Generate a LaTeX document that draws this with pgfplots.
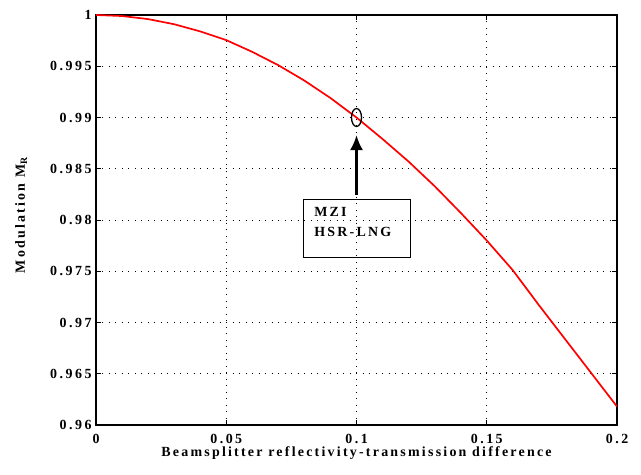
\documentclass[border=0pt]{standalone}
\usepackage{pgfplots}
\pgfplotsset{compat=1.18}
\usetikzlibrary{arrows.meta}
\usepackage{fontspec}
\setmainfont{Liberation Serif}[LetterSpace=16]
\newfontfamily\tickfont{Liberation Serif}[LetterSpace=18]
% open, upright ellipse used to flag the operating point
\pgfdeclareplotmark{vellipse}{%
  \pgfpathellipse{\pgfpointorigin}{\pgfqpoint{5bp}{0pt}}{\pgfqpoint{0pt}{9bp}}%
  \pgfusepathqstroke}
\begin{document}
\begin{tikzpicture}
\begin{axis}[
  scale only axis,
  width=521bp, height=410bp,
  xmin=0, xmax=0.2, ymin=0.96, ymax=1,
  xtick={0,0.05,0.1,0.15,0.2},
  ytick={0.96,0.965,0.97,0.975,0.98,0.985,0.99,0.995,1},
  xticklabels={0,0.05,0.1,0.15,0.2},
  yticklabels={0.96,0.965,0.97,0.975,0.98,0.985,0.99,0.995,1},
  tick align=inside,
  tick pos=both,
  major tick length=5bp,
  grid=major,
  major grid style={black, line width=0.9pt, dash pattern=on 0.9bp off 5.6bp},
  axis line style={black, line width=1.4pt},
  tick style={black, line width=1pt},
  ticklabel style={font=\fontsize{14}{16}\selectfont\tickfont\bfseries},
  xticklabel style={anchor=base, yshift=-18bp},
  yticklabel style={xshift=-1bp},
  label style={font=\fontsize{14}{16}\selectfont\bfseries},
  xlabel={Beamsplitter reflectivity-transmission difference},
  ylabel={Modulation M\textsubscript{R}},
  xlabel style={at={(axis description cs:0.5,0)}, anchor=base, yshift=-31bp},
  ylabel style={at={([xshift=-71bp,yshift=5bp]axis description cs:0,0.5)}, anchor=base},
]
\addplot[red, line width=1.7pt] coordinates {
  (0,1) (0.01,0.9999) (0.02,0.9996) (0.03,0.9991) (0.04,0.9984)
  (0.05,0.99755) (0.06,0.9964) (0.07,0.9951) (0.08,0.9936)
  (0.09,0.9919) (0.1,0.9900) (0.11,0.9879) (0.12,0.9857)
  (0.13,0.9833) (0.14,0.9807) (0.15,0.9780) (0.16,0.9751)
  (0.17,0.9717) (0.18,0.9684) (0.19,0.9651) (0.2,0.9618)
};
% operating point of the interferometer
\addplot[black, only marks, mark=vellipse, mark options={line width=1.3pt}] coordinates {(0.1,0.990)};
\draw[-{Latex[length=15bp,width=13bp]}, line width=2.4pt] (axis cs:0.1,0.98244) -- (axis cs:0.1,0.98829);
\node[draw, line width=1.1pt, inner sep=0pt, minimum width=107bp, minimum height=58bp, anchor=north west]
  at (axis cs:0.0795,0.98205) {};
\node[inner sep=0pt, anchor=north west, align=left, font=\fontsize{14}{20}\selectfont\bfseries]
  at ([xshift=11bp,yshift=-8bp]axis cs:0.0795,0.98205) {MZI\\HSR-LNG};
\end{axis}
\path ([xshift=-96bp,yshift=-50bp]current axis.south west) rectangle ([xshift=24bp,yshift=15bp]current axis.north east);
\end{tikzpicture}
\end{document}
